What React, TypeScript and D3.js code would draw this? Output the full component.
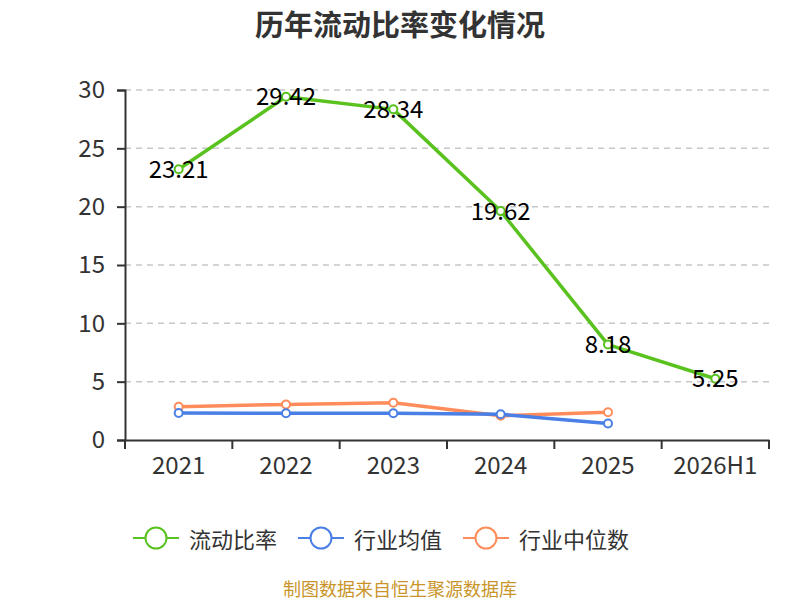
import { useEffect, useRef } from "react";
import * as d3 from "d3";

const categories = ["2021", "2022", "2023", "2024", "2025", "2026H1"];
const currentRatio = [23.21, 29.42, 28.34, 19.62, 8.18, 5.25];
const industryMean = [2.31, 2.3, 2.3, 2.2, 1.42];
const industryMedian = [2.85, 3.05, 3.2, 2.08, 2.38];
const yTicks = [0, 5, 10, 15, 20, 25, 30];

const seriesList = [
    { name: "流动比率", color: "#5ac21f", values: currentRatio, labels: true },
    { name: "行业均值", color: "#4a7fe6", values: industryMean, labels: false },
    { name: "行业中位数", color: "#ff8c5a", values: industryMedian, labels: false },
];

const font = "'Noto Sans CJK SC', 'Noto Sans', sans-serif";

const App = () => {
    const svgRef = useRef<SVGSVGElement>(null);

    useEffect(() => {
        const svg = d3.select(svgRef.current);
        svg.selectAll("*").remove();

        const left = 125;
        const right = 769;
        const top = 90;
        const bottom = 440;

        const x = d3.scaleBand().domain(categories).range([left, right]);
        const y = d3.scaleLinear().domain([0, 30]).range([bottom, top]);
        const cx = (i: number) => (x(categories[i]) ?? 0) + x.bandwidth() / 2;

        // title
        svg.append("text")
            .attr("x", 400)
            .attr("y", 23)
            .attr("text-anchor", "middle")
            .attr("dominant-baseline", "central")
            .attr("font-size", 29)
            .attr("font-weight", "bold")
            .attr("fill", "#333")
            .text("历年流动比率变化情况");

        // grid
        svg.append("g")
            .selectAll("line")
            .data(yTicks.filter((t) => t > 0))
            .enter()
            .append("line")
            .attr("x1", left)
            .attr("x2", right)
            .attr("y1", (d) => y(d))
            .attr("y2", (d) => y(d))
            .attr("stroke", "#c8c8c8")
            .attr("stroke-width", 1.5)
            .attr("stroke-dasharray", "6,5");

        // y axis
        const yAxis = svg
            .append("g")
            .attr("transform", `translate(${left},0)`)
            .call(d3.axisLeft(y).tickValues(yTicks).tickSize(8).tickPadding(12));
        yAxis.select(".domain").attr("stroke", "#333").attr("stroke-width", 2);
        yAxis.selectAll(".tick line").attr("stroke", "#333").attr("stroke-width", 2);
        yAxis.selectAll(".tick text")
            .attr("fill", "#333")
            .attr("font-size", 24)
            .attr("font-family", font);

        // x axis
        const xAxis = svg
            .append("g")
            .attr("transform", `translate(0,${bottom})`)
            .call(d3.axisBottom(x).tickSize(0).tickPadding(17));
        xAxis.select(".domain").attr("stroke", "#333").attr("stroke-width", 2);
        xAxis.selectAll(".tick text")
            .attr("fill", "#333")
            .attr("font-size", 24)
            .attr("font-family", font);
        xAxis.selectAll("line.sep")
            .data(d3.range(categories.length + 1))
            .enter()
            .append("line")
            .attr("class", "sep")
            .attr("x1", (i) => left + i * x.bandwidth())
            .attr("x2", (i) => left + i * x.bandwidth())
            .attr("y1", 0)
            .attr("y2", 9)
            .attr("stroke", "#333")
            .attr("stroke-width", 2);

        const line = d3
            .line<number>()
            .x((_, i) => cx(i))
            .y((d) => y(d));

        [...seriesList].reverse().forEach((s) => {
            const g = svg.append("g");
            g.append("path")
                .datum(s.values)
                .attr("d", line)
                .attr("fill", "none")
                .attr("stroke", s.color)
                .attr("stroke-width", 3.5)
                .attr("stroke-linejoin", "round");
            g.selectAll("circle")
                .data(s.values)
                .enter()
                .append("circle")
                .attr("cx", (_, i) => cx(i))
                .attr("cy", (d) => y(d))
                .attr("r", 4)
                .attr("fill", "#fff")
                .attr("stroke", s.color)
                .attr("stroke-width", 2);
            if (s.labels) {
                g.selectAll("text")
                    .data(s.values)
                    .enter()
                    .append("text")
                    .attr("x", (_, i) => cx(i))
                    .attr("y", (d) => y(d) - 2)
                    .attr("text-anchor", "middle")
                    .attr("dominant-baseline", "central")
                    .attr("font-size", 24)
                    .attr("fill", "#000")
                    .text((d) => d.toFixed(2));
            }
        });

        // legend
        const legendX = [133, 298, 463];
        seriesList.forEach((s, i) => {
            const g = svg.append("g").attr("transform", `translate(${legendX[i]},538)`);
            g.append("line")
                .attr("x1", 0)
                .attr("x2", 46)
                .attr("stroke", s.color)
                .attr("stroke-width", 2);
            g.append("circle")
                .attr("cx", 23)
                .attr("r", 10.5)
                .attr("fill", "#fff")
                .attr("stroke", s.color)
                .attr("stroke-width", 2);
            g.append("text")
                .attr("x", 56)
                .attr("dominant-baseline", "central")
                .attr("font-size", 22)
                .attr("fill", "#333")
                .text(s.name);
        });

        // source
        svg.append("text")
            .attr("x", 400)
            .attr("y", 588)
            .attr("text-anchor", "middle")
            .attr("dominant-baseline", "central")
            .attr("font-size", 18)
            .attr("fill", "#c9952b")
            .text("制图数据来自恒生聚源数据库");
    }, []);

    return (
        <svg
            ref={svgRef}
            width={800}
            height={600}
            style={{ position: "absolute", left: 0, top: 0, fontFamily: font, background: "#fff" }}
        ></svg>
    );
};

export default App;
